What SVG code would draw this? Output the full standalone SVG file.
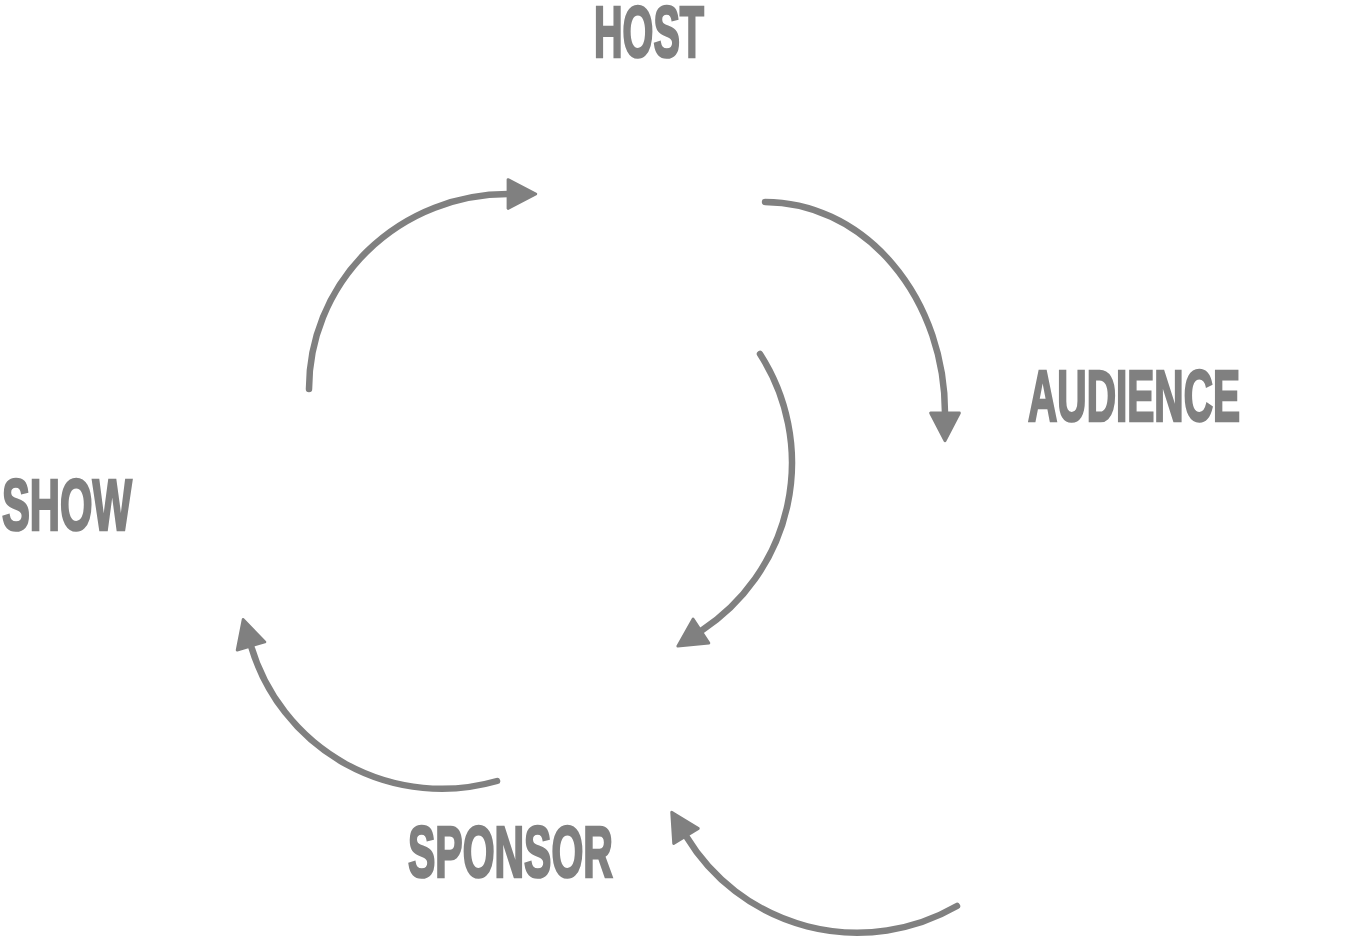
<svg xmlns="http://www.w3.org/2000/svg" width="1366" height="937" viewBox="0 0 1366 937">
<style>
.lbl{font-family:"Liberation Sans","DejaVu Sans",sans-serif;font-weight:bold;font-size:72px;fill:#808080;stroke:#808080;stroke-width:2.2;stroke-linejoin:miter;vector-effect:non-scaling-stroke}
.arc{fill:none;stroke:#808080;stroke-width:6.5;stroke-linecap:round}
</style>
<defs>
<marker id="ah" markerUnits="userSpaceOnUse" markerWidth="40" markerHeight="40" viewBox="-4 -18 36 36" refX="0" refY="0" orient="auto" overflow="visible">
<path d="M0,-13 L25,0 L0,13 Z" fill="#808080" stroke="#808080" stroke-width="2.5" stroke-linejoin="round"/>
</marker>
</defs>
<rect width="1366" height="937" fill="#ffffff"/>
<g id="host"><text class="lbl" transform="translate(594,57) scale(0.55,1)">HOST</text></g>
<g id="audience"><text class="lbl" transform="translate(1028,421) scale(0.564,1)">AUDIENCE</text></g>
<g id="show"><text class="lbl" transform="translate(2,530) scale(0.58,1)">SHOW</text></g>
<g id="sponsor"><text class="lbl" transform="translate(408,877) scale(0.569,1)">SPONSOR</text></g>
<g id="connectors">
<path class="arc" d="M309,389 A199,195 0 0 1 508,194" marker-end="url(#ah)"/>
<path class="arc" d="M765,202 A180,211 0 0 1 945,413" marker-end="url(#ah)"/>
<path class="arc" d="M760,354 A201,201 0 0 1 701,631" marker-end="url(#ah)"/>
<path class="arc" d="M497,781 A199,199 0 0 1 251,646" marker-end="url(#ah)"/>
<path class="arc" d="M957,906 A200,200 0 0 1 686,836" marker-end="url(#ah)"/>
</g>
</svg>
